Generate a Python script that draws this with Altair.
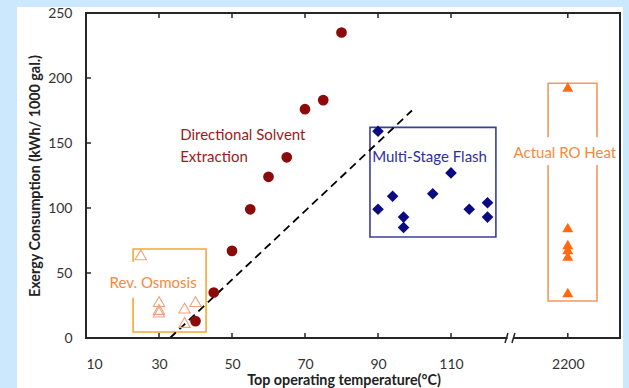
import altair as alt
import pandas as pd

FONT = "Lato"

# ---- data ----
dse_temp = [40, 45, 50, 55, 60, 65, 70, 75, 80]
dse_val = [13, 35, 67, 99, 124, 139, 176, 183, 235]

msf_temp = [90, 90, 94, 97, 97, 105, 110, 115, 120, 120]
msf_val = [159, 99, 109, 93, 85, 111, 127, 99, 104, 93]

ro_temp = [25, 30, 30, 30, 37, 37, 40]
ro_val = [64, 28, 22, 20, 23, 12, 28]

heat_pos = 142  # axis position used for 2200 after the break
heat_val = [193, 85, 72, 68, 63, 35]

x_ticks = [10, 30, 50, 70, 90, 110, 142]
y_ticks = [0, 50, 100, 150, 200, 250]

# annotation boxes (x1, x2, y1, y2, color)
boxes = [
    (22.9, 42.9, 4.6, 68.5, "#f5a833"),
    (87.8, 122.3, 77.7, 162, "#3c3ca0"),
    (136.6, 150.0, 28.5, 196, "#f5985a"),
]
# white patches behind labels
patches = [
    (21.0, 25.0, 31, 58.5),
    (135.5, 151.5, 133, 154.5),
]
labels = [
    ("Directional Solvent", 35.8, 156, "left", "#9a1b1b"),
    ("Extraction", 35.8, 139, "left", "#9a1b1b"),
    ("Multi-Stage Flash", 88.4, 139, "left", "#2e2e9e"),
    ("Actual RO Heat", 141.2, 142, "center", "#f28a3e"),
    ("Rev. Osmosis", 28.4, 42, "center", "#f28a3e"),
]
dash_line = {"x": [33, 99.3], "y": [0, 175]}

W, H = 534, 325
xscale = alt.Scale(domain=[10, 156.3], nice=False, zero=False)
yscale = alt.Scale(domain=[0, 250], nice=False, zero=False)

xaxis = alt.Axis(
    values=x_ticks, labelExpr="datum.value == 142 ? '2200' : datum.label",
    ticks=False, tickSize=0, domain=False, grid=False, labelPadding=19, zindex=2,
    labelFont=FONT, labelFontSize=14, labelColor="#333333",
    title="Top operating temperature(°C)", titleFont=FONT, titleFontSize=14.3, titleFontWeight="bold",
    titleColor="#222222", titleX=257.5, titleY=42, titleBaseline="middle", titleAnchor="middle",
)
yaxis = alt.Axis(
    values=y_ticks, ticks=False, tickSize=0, domain=False, grid=False, labelPadding=14, zindex=2,
    labelFont=FONT, labelFontSize=14, labelColor="#333333",
    title="Exergy Consumption (kWh/ 1000 gal.)", titleFont=FONT, titleFontSize=14.3, titleFontWeight="bold",
    titleColor="#222222", titleX=-51, titleBaseline="middle", titleAngle=-90, titleAlign="center",
)


def X(f):
    return alt.X(f, scale=xscale, axis=xaxis)


def Y(f):
    return alt.Y(f, scale=yscale, axis=yaxis)


one = pd.DataFrame({"a": [0]})

panel = alt.Chart(one).mark_rect(color="white").encode(
    x=alt.value(-69), x2=alt.value(537), y=alt.value(-6), y2=alt.value(380)
)

frame = alt.Chart(one).mark_rect(fill="white", fillOpacity=0, stroke="#262626", strokeWidth=2).encode(
    x=alt.value(0), x2=alt.value(W), y=alt.value(0), y2=alt.value(H)
)

tick_df = pd.DataFrame({"x": x_ticks[1:]})
xt_bot = alt.Chart(tick_df).mark_rule(color="#262626", strokeWidth=1.5).encode(
    x=X("x:Q"), y=alt.value(H), y2=alt.value(H - 5)
)
xt_top = alt.Chart(tick_df).mark_rule(color="#262626", strokeWidth=1.5).encode(
    x=X("x:Q"), y=alt.value(0), y2=alt.value(5)
)
ytick_df = pd.DataFrame({"y": y_ticks[1:-1]})
yt = alt.Chart(ytick_df).mark_rule(color="#262626", strokeWidth=1.5).encode(
    y=Y("y:Q"), x=alt.value(0), x2=alt.value(5)
)

brk = alt.Chart(pd.DataFrame({"x": [125.5], "x2": [127.0]})).mark_rect(color="white").encode(
    x=X("x:Q"), x2="x2:Q", y=alt.value(H - 4), y2=alt.value(H + 4)
)
slash = alt.Chart(pd.DataFrame({"x": [124.8, 126.7], "x2": [125.6, 127.5]})).mark_rule(
    color="#262626", strokeWidth=1.5
).encode(
    x=X("x:Q"), x2="x2:Q", y=alt.value(H + 5), y2=alt.value(H - 5)
)

box_df = pd.DataFrame(boxes, columns=["x1", "x2", "y1", "y2", "c"])
box_layer = alt.Chart(box_df).mark_rect(fillOpacity=0, strokeWidth=1.6).encode(
    x=X("x1:Q"), x2="x2:Q", y=Y("y1:Q"), y2="y2:Q",
    stroke=alt.Stroke("c:N", scale=None), fill=alt.value("white"),
)
patch_df = pd.DataFrame(patches, columns=["x1", "x2", "y1", "y2"])
patch_layer = alt.Chart(patch_df).mark_rect(color="white").encode(
    x=X("x1:Q"), x2="x2:Q", y=Y("y1:Q"), y2="y2:Q",
)

dash = alt.Chart(pd.DataFrame(dash_line)).mark_line(color="black", strokeWidth=1.8, strokeDash=[8, 5]).encode(
    x=X("x:Q"), y=Y("y:Q")
)

dse = alt.Chart(pd.DataFrame({"x": dse_temp, "y": dse_val})).mark_point(
    shape="circle", filled=True, color="#8b0a0a", size=115, opacity=1
).encode(x=X("x:Q"), y=Y("y:Q"))

msf = alt.Chart(pd.DataFrame({"x": msf_temp, "y": msf_val})).mark_point(
    shape="diamond", filled=True, color="#0a0a82", size=135, opacity=1
).encode(x=X("x:Q"), y=Y("y:Q"))

ro = alt.Chart(pd.DataFrame({"x": ro_temp, "y": ro_val})).mark_point(
    shape="triangle-up", filled=False, color="#f2a27a", size=130, strokeWidth=1.1, opacity=1
).encode(x=X("x:Q"), y=Y("y:Q"))

heat = alt.Chart(pd.DataFrame({"x": [heat_pos] * len(heat_val), "y": heat_val})).mark_point(
    shape="triangle-up", filled=True, color="#ff6a0d", size=120, opacity=1
).encode(x=X("x:Q"), y=Y("y:Q"))

lab_df = pd.DataFrame(labels, columns=["t", "x", "y", "al", "c"])
text_layers = []
for al in ["left", "center"]:
    sub = lab_df[lab_df["al"] == al]
    text_layers.append(
        alt.Chart(sub).mark_text(font=FONT, fontSize=15, align=al, baseline="middle").encode(
            x=X("x:Q"), y=Y("y:Q"), text="t:N",
            color=alt.Color("c:N", scale=None),
        )
    )

chart = alt.layer(
    panel, box_layer, patch_layer, dash, dse, msf, ro, heat, *text_layers,
    frame, brk, slash, xt_bot, xt_top, yt,
).properties(
    width=W, height=H,
    padding={"left": 86, "top": 13, "right": 9, "bottom": 50},
    autosize=alt.AutoSizeParams(type="none"),
    background="#cce8fc",
).configure_view(stroke=None)

chart.save("out.html", embed_options={"renderer": "svg", "actions": False})
